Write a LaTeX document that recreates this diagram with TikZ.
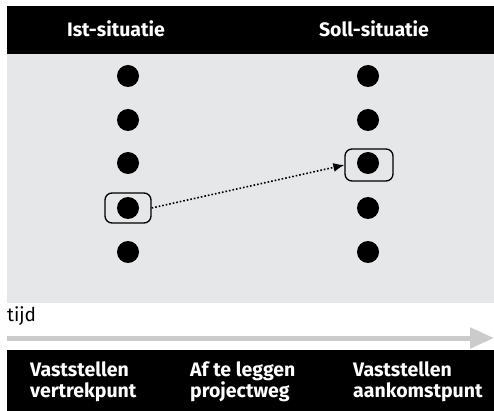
\documentclass[tikz,border=0pt]{standalone}
\usepackage{fontspec}
\setmainfont{Fira Sans}
\usetikzlibrary{arrows.meta}
\definecolor{panelgray}{HTML}{E6E7E8}
\definecolor{arrowgray}{HTML}{CBCBCB}
\begin{document}
\begin{tikzpicture}[x=1pt,y=-1pt,
  dot/.style={circle,fill=black,minimum size=22pt,inner sep=0pt},
  sel/.style={draw=black,line width=1.3pt,rounded corners=7pt,minimum width=46pt,minimum height=30pt},
  head/.style={text=white,font=\fontsize{19.5}{22}\selectfont\fontseries{sb}\selectfont},
  foot/.style={text=white,font=\fontsize{19.5}{21.5}\selectfont\fontseries{sb}\selectfont,align=left,anchor=north west,inner sep=0pt}]
\useasboundingbox (0,0) rectangle (494,411);
\fill[white] (0,0) rectangle (494,411);
\fill[black] (7,6) rectangle (494,54);
\fill[panelgray] (7,54) rectangle (494,303);
\fill[black] (7,350) rectangle (494,411);
\node[head] (ist) at (116,29) {Ist-situatie};
\node[head] (soll) at (374,29) {Soll-situatie};
\foreach \i/\y in {1/76,2/120,3/163,4/208,5/252}{
  \node[dot] (l\i) at (128,\y) {};
  \node[dot] (r\i) at (368,\y) {};
}
\node[sel] (bl) at (128,208) {};
\node[sel,minimum width=48pt,minimum height=32pt] (br) at (369,165) {};
\draw[dotted,line width=1.6pt,-{Latex[length=11pt,width=9pt]}] (bl.east) -- (br.west);
\node[anchor=west,inner sep=0pt,font=\fontsize{19}{22}\selectfont] (tijd) at (7,316) {tijd};
\coordinate (as) at (7,338);
\coordinate (ae) at (494,338);
\draw[arrowgray,line width=5pt,-{Triangle[length=24pt,width=20pt]}] (as) -- (ae);
\node[foot] (f1) at (30,361) {Vaststellen\\vertrekpunt};
\node[foot] (f2) at (190,361) {Af te leggen\\projectweg};
\node[foot] (f3) at (353,361) {Vaststellen\\aankomstpunt};
\end{tikzpicture}
\end{document}
